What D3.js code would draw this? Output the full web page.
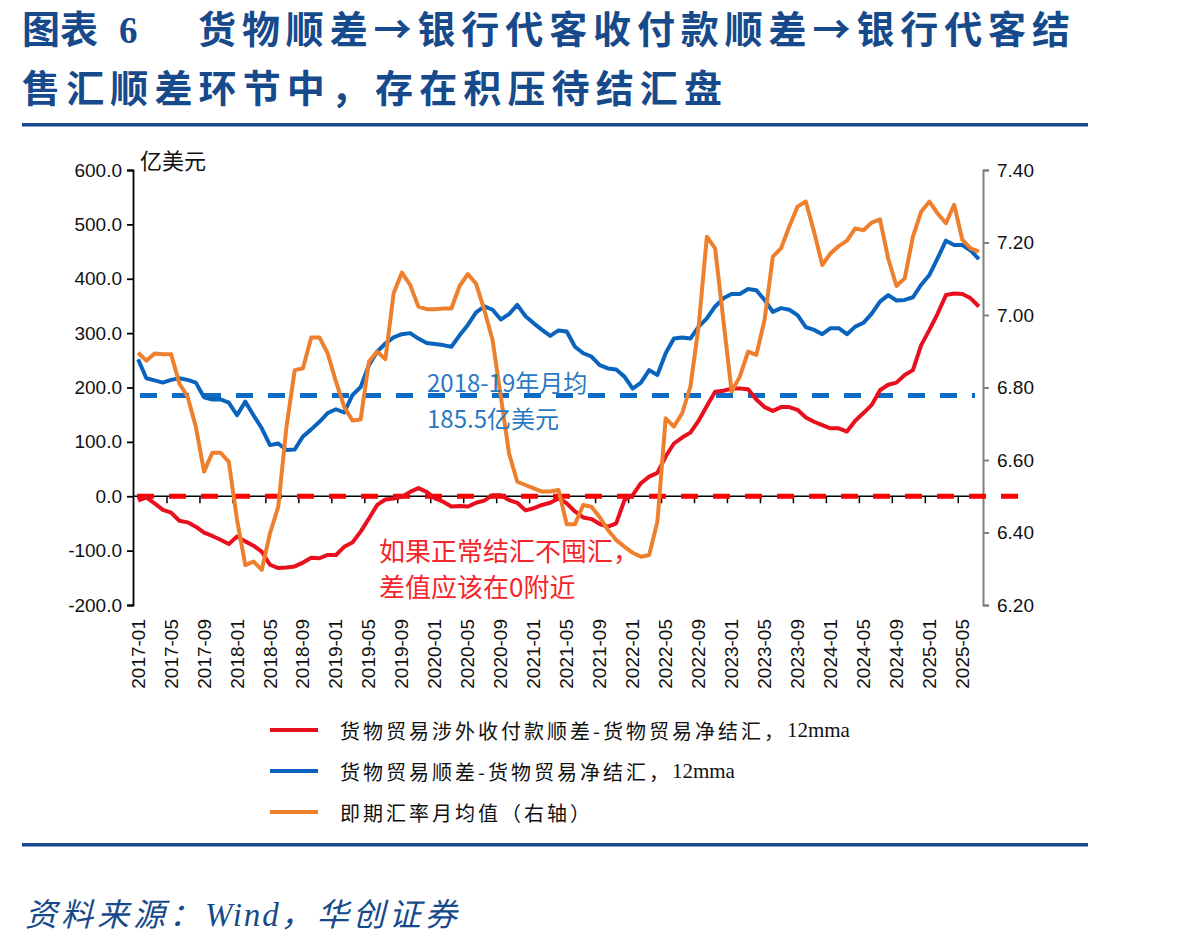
<!DOCTYPE html>
<html>
<head>
<meta charset="utf-8">
<script src="https://cdn.jsdelivr.net/npm/d3@7"></script>
<style>
  body { margin: 0; background: #fff; }
  svg { display: block; }
</style>
</head>
<body>
<div id="chart"></div>
<script>
// months 2017-01 .. 2025-07
const months = d3.timeMonths(new Date(2017, 0, 1), new Date(2025, 7, 1)).map(d3.timeFormat('%Y-%m'));

// 货物贸易涉外收付款顺差-货物贸易净结汇, 12mma (亿美元)
const receiptGap = [
  -8, -2, -13, -25, -30, -45, -48, -56, -67, -73, -80, -88,
  -74, -83, -91, -102, -126, -132, -131, -129, -122, -113, -114, -108,
  -108, -93, -85, -65, -41, -16, -6, -4, -1, 8, 15, 8,
  -4, -10, -19, -18, -19, -12, -8, 2, 2, -7, -12, -26,
  -22, -16, -12, -4, -13, -28, -39, -42, -51, -56, -50, -7,
  2, 24, 36, 43, 73, 97, 108, 117, 139, 166, 192, 194,
  198, 198, 197, 178, 164, 157, 164, 164, 159, 145, 137, 131,
  125, 125, 119, 139, 153, 168, 195, 205, 209, 223, 232, 278,
  306, 336, 370, 373, 372, 364, 349
];

// 货物贸易顺差-货物贸易净结汇, 12mma (亿美元)
const surplusGap = [
  252, 217, 213, 209, 214, 217, 214, 209, 182, 178, 178, 172,
  149, 174, 149, 125, 94, 97, 85, 86, 110, 123, 137, 153,
  160, 154, 186, 201, 241, 266, 281, 292, 298, 300, 290, 282,
  280, 278, 275, 296, 315, 338, 349, 343, 325, 335, 352, 331,
  318, 306, 295, 305, 303, 275, 263, 257, 241, 235, 233, 220,
  198, 209, 232, 223, 263, 290, 292, 290, 312, 327, 349, 364,
  372, 372, 381, 379, 361, 339, 346, 343, 333, 311, 306, 298,
  309, 309, 298, 312, 319, 336, 358, 370, 360, 361, 366, 389,
  407, 438, 470, 462, 462, 452, 436
];

// 即期汇率月均值 (右轴)
const spotRate = [
  6.896, 6.874, 6.894, 6.892, 6.892, 6.811, 6.775, 6.692, 6.568, 6.620, 6.620, 6.595,
  6.435, 6.310, 6.320, 6.297, 6.398, 6.471, 6.692, 6.848, 6.853, 6.938, 6.938, 6.894,
  6.816, 6.747, 6.709, 6.712, 6.871, 6.899, 6.878, 7.060, 7.117, 7.083, 7.023, 7.016,
  7.016, 7.018, 7.018, 7.080, 7.113, 7.086, 7.014, 6.931, 6.775, 6.618, 6.540, 6.531,
  6.522, 6.513, 6.513, 6.517, 6.423, 6.423, 6.476, 6.471, 6.442, 6.407, 6.379, 6.361,
  6.344, 6.333, 6.338, 6.430, 6.715, 6.692, 6.729, 6.802, 6.968, 7.216, 7.184, 6.986,
  6.789, 6.830, 6.899, 6.890, 6.986, 7.161, 7.184, 7.244, 7.299, 7.313, 7.230, 7.138,
  7.170, 7.190, 7.205, 7.239, 7.234, 7.255, 7.264, 7.156, 7.080, 7.101, 7.216, 7.285,
  7.313, 7.280, 7.253, 7.304, 7.207, 7.184, 7.175
];

const leftTicks = [-200, -100, 0, 100, 200, 300, 400, 500, 600];
const rightTicks = [6.2, 6.4, 6.6, 6.8, 7.0, 7.2, 7.4];
const avg1819 = 185.5;

const legendNames = [
  ['货物贸易涉外收付款顺差-货物贸易净结汇，', '12mma'],
  ['货物贸易顺差-货物贸易净结汇，', '12mma'],
  ['即期汇率月均值（右轴）', '']
];
const colors = ['#e8101e', '#0a64bd', '#ee7f2d'];
const navy = '#174a8b';

const width = 1198, height = 946;
const cjk = '"Noto Sans CJK SC", "Noto Sans", sans-serif';
const num = '"Liberation Sans", Arial, sans-serif';
const serif = '"Liberation Serif", serif';

const svg = d3.select('#chart').append('svg')
  .attr('width', width).attr('height', height)
  .style('background', '#fff');

// title
const title = svg.append('g').attr('fill', navy).attr('font-family', cjk).attr('font-weight', 700);
title.append('text').attr('x', 22).attr('y', 43).attr('font-size', 38).text('图表');
title.append('text').attr('x', 119).attr('y', 43).attr('font-size', 37)
  .attr('font-family', serif).text('6');
title.append('text').attr('x', 198).attr('y', 43).attr('font-size', 38)
  .attr('textLength', 872).attr('lengthAdjust', 'spacing')
  .text('货物顺差→银行代客收付款顺差→银行代客结');
title.append('text').attr('x', 22).attr('y', 102).attr('font-size', 38)
  .attr('textLength', 700).attr('lengthAdjust', 'spacing')
  .text('售汇顺差环节中，存在积压待结汇盘');

svg.append('rect').attr('x', 22).attr('y', 123).attr('width', 1066).attr('height', 3.5).attr('fill', navy);
svg.append('rect').attr('x', 22).attr('y', 843).attr('width', 1066).attr('height', 3.5).attr('fill', navy);

// scales
const x = d3.scaleBand().domain(months).range([134, 983]).padding(0);
const bw = x.bandwidth();
const yL = d3.scaleLinear().domain([-200, 600]).range([605, 170]);
const yR = d3.scaleLinear().domain([6.2, 7.4]).range([605, 170]);

// left axis
const axL = svg.append('g').attr('transform', 'translate(133,0)')
  .call(d3.axisLeft(yL).tickValues(leftTicks).tickFormat(d => d.toFixed(1)).tickSize(6).tickSizeOuter(6));
axL.select('.domain').attr('stroke', '#000').attr('stroke-width', 1.8);
axL.selectAll('.tick line').attr('stroke', '#000').attr('stroke-width', 1.8);
axL.selectAll('.tick text').attr('font-family', num).attr('font-size', 19).attr('fill', '#111').attr('x', -11);

// right axis
const axR = svg.append('g').attr('transform', 'translate(983,0)')
  .call(d3.axisRight(yR).tickValues(rightTicks).tickFormat(d => d.toFixed(2)).tickSize(6).tickSizeOuter(6));
axR.select('.domain').attr('stroke', '#808080').attr('stroke-width', 2);
axR.selectAll('.tick line').attr('stroke', '#808080').attr('stroke-width', 2);
axR.selectAll('.tick text').attr('font-family', num).attr('font-size', 19).attr('fill', '#111').attr('x', 14);

svg.append('text').attr('x', 140).attr('y', 169).attr('font-family', cjk).attr('font-size', 22)
  .attr('fill', '#111').text('亿美元');

// category axis on the zero line
const zeroY = yL(0);
svg.append('line').attr('x1', 133).attr('x2', 983).attr('y1', zeroY).attr('y2', zeroY)
  .attr('stroke', '#000').attr('stroke-width', 1.5);
const tickMonths = months.filter((m, i) => i % 4 == 0);
svg.append('g').selectAll('line').data(tickMonths.slice(1)).join('line')
  .attr('x1', m => x(m)).attr('x2', m => x(m))
  .attr('y1', zeroY).attr('y2', zeroY + 7)
  .attr('stroke', '#000').attr('stroke-width', 1.5);
svg.append('g').selectAll('text').data(tickMonths).join('text')
  .attr('transform', m => `translate(${x(m) + bw / 2},619) rotate(-90)`)
  .attr('text-anchor', 'end')
  .attr('dominant-baseline', 'central')
  .attr('font-family', num).attr('font-size', 19).attr('fill', '#111')
  .text(m => m);

// reference lines
svg.append('line').attr('x1', 137).attr('x2', 1032).attr('y1', zeroY).attr('y2', zeroY)
  .attr('stroke', '#ff0000').attr('stroke-width', 5).attr('stroke-dasharray', '17,15');
svg.append('line').attr('x1', 140).attr('x2', 975).attr('y1', yL(avg1819)).attr('y2', yL(avg1819))
  .attr('stroke', '#0a6cc4').attr('stroke-width', 5).attr('stroke-dasharray', '17,15');

// series
const lineL = d3.line().x((d, i) => x(months[i]) + bw / 2).y(d => yL(d));
const lineR = d3.line().x((d, i) => x(months[i]) + bw / 2).y(d => yR(d));
const seriesData = [[receiptGap, lineL], [surplusGap, lineL], [spotRate, lineR]];
svg.append('g').selectAll('path').data(seriesData).join('path')
  .attr('d', s => s[1](s[0]))
  .attr('fill', 'none')
  .attr('stroke', (s, i) => colors[i])
  .attr('stroke-width', 4)
  .attr('stroke-linejoin', 'round');

// annotations
const blueNote = svg.append('text').attr('font-family', cjk).attr('font-size', 24).attr('fill', '#2a78c2');
blueNote.append('tspan').attr('x', 427).attr('y', 392).text('2018-19年月均');
blueNote.append('tspan').attr('x', 427).attr('y', 428).text('185.5亿美元');
const redNote = svg.append('text').attr('font-family', cjk).attr('font-size', 26).attr('fill', '#f5262b');
redNote.append('tspan').attr('x', 379).attr('y', 561).text('如果正常结汇不囤汇，');
redNote.append('tspan').attr('x', 379).attr('y', 597).text('差值应该在0附近');

// legend
const legend = svg.append('g').selectAll('g').data(legendNames).join('g')
  .attr('transform', (d, i) => `translate(270,${730 + i * 41})`);
legend.append('line').attr('x1', 0).attr('x2', 48)
  .attr('stroke', (d, i) => colors[i]).attr('stroke-width', 4);
const legText = legend.append('text').attr('x', 70).attr('dominant-baseline', 'central')
  .attr('font-family', cjk).attr('font-size', 20).attr('fill', '#111');
legText.append('tspan').attr('letter-spacing', 3).text(d => d[0]);
legText.append('tspan').attr('font-family', serif).attr('font-size', 21).text(d => d[1]);

// source
const src = svg.append('text').attr('x', 25).attr('y', 926).attr('font-size', 32)
  .attr('font-style', 'italic').attr('fill', navy).attr('font-family', cjk);
src.append('tspan').attr('letter-spacing', 4).text('资料来源：');
src.append('tspan').attr('font-family', serif).attr('font-size', 33).attr('letter-spacing', 2).text('Wind');
src.append('tspan').attr('letter-spacing', 4).text('，华创证券');
</script>
</body>
</html>
